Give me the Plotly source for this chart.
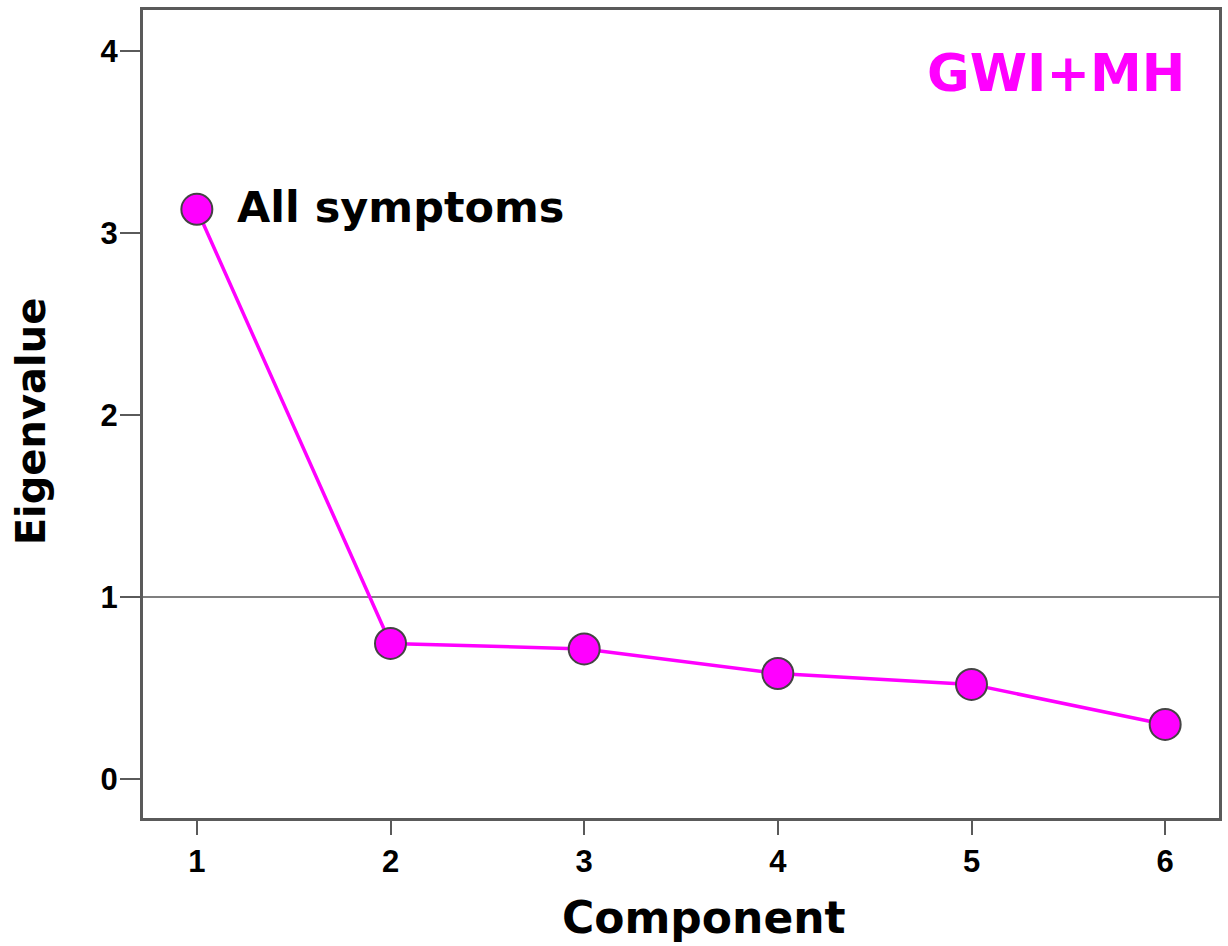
import plotly.graph_objects as go

components = [1, 2, 3, 4, 5, 6]
eigenvalues = [3.13, 0.745, 0.715, 0.58, 0.52, 0.30]
x_ticks = [1, 2, 3, 4, 5, 6]
y_ticks = [0, 1, 2, 3, 4]
ref_value = 1
group_label = "GWI+MH"
point_label = "All symptoms"
x_title = "Component"
y_title = "Eigenvalue"

TICKFONT = "Liberation Sans, Arial, sans-serif"
FONT = "DejaVu Sans, Verdana, sans-serif"
MAG = "#FF00FF"
AX = "#5a5a5a"

# plot area in pixels (used to place free text)
L, R, T, B = 143, 1222, 10, 818


def px(xp):
    return (xp - L) / (R - L)


def py(yp):
    return (B - yp) / (B - T)


fig = go.Figure()
fig.add_trace(go.Scatter(
    x=components, y=eigenvalues, mode="lines+markers",
    line=dict(color=MAG, width=3.5),
    marker=dict(size=31, color=MAG, line=dict(color="#444444", width=2)),
    showlegend=False, hoverinfo="skip",
))

fig.add_shape(type="line", xref="paper", x0=0, x1=1, yref="y", y0=ref_value, y1=ref_value,
              line=dict(color="#555555", width=1.5), layer="below")

fig.add_annotation(x=components[0], y=eigenvalues[0], text="<b>%s</b>" % point_label,
                   xref="x", yref="y", showarrow=False, xanchor="left", yanchor="middle",
                   xshift=38, yshift=2, font=dict(family=FONT, size=43, color="black"))
fig.add_annotation(x=px(1190), y=py(73), xref="paper", yref="paper", text="<b>%s</b>" % group_label,
                   showarrow=False, xanchor="right", yanchor="middle",
                   font=dict(family=FONT, size=52, color=MAG))
fig.add_annotation(x=px(706), y=py(917), xref="paper", yref="paper", text="<b>%s</b>" % x_title,
                   showarrow=False, xanchor="center", yanchor="middle",
                   font=dict(family=FONT, size=44, color="black"))
fig.add_annotation(x=px(31), y=py(421), xref="paper", yref="paper", text="<b>%s</b>" % y_title,
                   showarrow=False, xanchor="center", yanchor="middle", textangle=-90,
                   font=dict(family=FONT, size=40, color="black"))

fig.update_layout(
    width=1228, height=946,
    margin=dict(l=L, r=1228 - R, t=T, b=946 - B),
    paper_bgcolor="white", plot_bgcolor="white",
    xaxis=dict(range=[0.722, 6.278], tickvals=x_ticks, ticks="outside", ticklen=14,
               tickwidth=2, tickcolor=AX, showgrid=False, zeroline=False,
               showline=True, linecolor=AX, linewidth=3, mirror=True,
               ticklabelstandoff=0,
               tickfont=dict(family=TICKFONT, size=31, color="black", weight="bold")),
    yaxis=dict(range=[-0.214, 4.225], tickvals=y_ticks, ticks="outside", ticklen=20,
               tickwidth=2, tickcolor=AX, showgrid=False, zeroline=False,
               showline=True, linecolor=AX, linewidth=3, mirror=True,
               ticklabelstandoff=-4,
               tickfont=dict(family=TICKFONT, size=31, color="black", weight="bold")),
)

fig.write_html("out.html")
